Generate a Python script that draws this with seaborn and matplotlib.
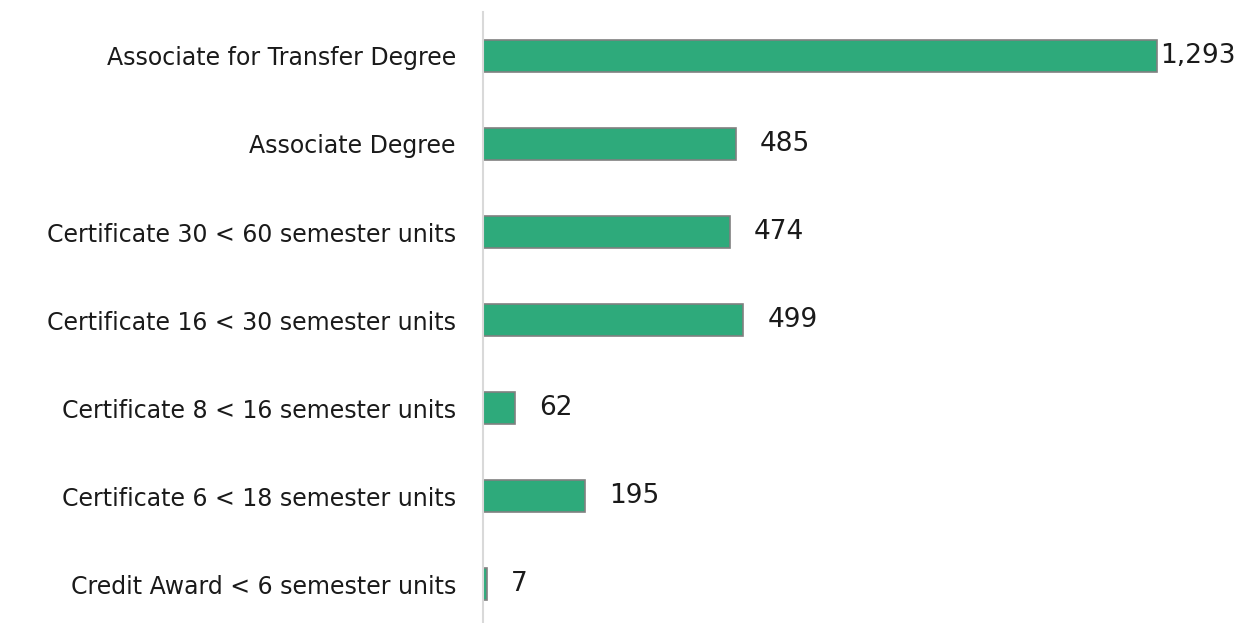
import matplotlib
matplotlib.use("Agg")
import matplotlib.pyplot as plt
import seaborn as sns
import pandas as pd

categories = [
    "Associate for Transfer Degree",
    "Associate Degree",
    "Certificate 30 < 60 semester units",
    "Certificate 16 < 30 semester units",
    "Certificate 8 < 16 semester units",
    "Certificate 6 < 18 semester units",
    "Credit Award < 6 semester units",
]
values = [1293, 485, 474, 499, 62, 195, 7]

df = pd.DataFrame({"category": categories, "value": values})

sns.set_theme(style="white")
plt.rcParams["font.family"] = ["DejaVu Sans"]

fig = plt.figure(figsize=(12.43, 6.23), dpi=100)
ax = fig.add_axes([483 / 1243, -5 / 623, 730 / 1243, 616 / 623])

sns.barplot(data=df, x="value", y="category", orient="h", color="#2EAA7B",
            saturation=1, width=0.36, edgecolor="#808080", linewidth=1.2, ax=ax)

ax.set_xlim(0, 1400)
ax.set_ylim(6.5, -0.5)
ax.set_xlabel("")
ax.set_ylabel("")
ax.set_xticks([])
for s in ["top", "right", "bottom"]:
    ax.spines[s].set_visible(False)
ax.spines["left"].set_color("#d9d9d9")
ax.spines["left"].set_linewidth(1.5)
ax.tick_params(axis="y", length=0, pad=19.5, labelsize=17, labelcolor="#1a1a1a")

labels = [f"{v:,}" for v in values]
container = ax.containers[0]
vmax = max(values)
for rect, lab, v in zip(container, labels, values):
    pad = 3 if v == vmax else 24
    ax.annotate(lab, (rect.get_width(), rect.get_y() + rect.get_height() / 2),
                xytext=(pad, 0), textcoords="offset pixels",
                va="center", ha="left", fontsize=19, color="#1a1a1a")

fig.savefig("out.png", dpi=100)
